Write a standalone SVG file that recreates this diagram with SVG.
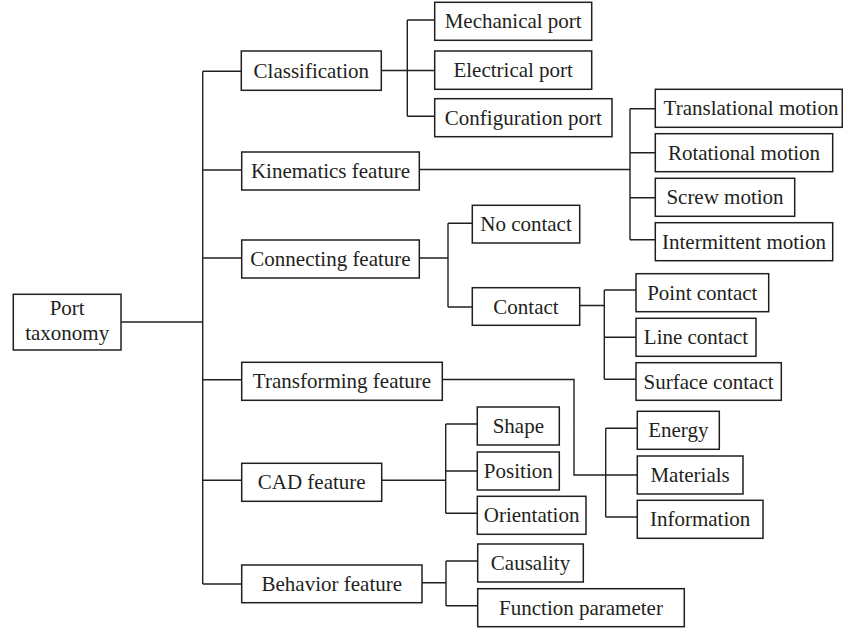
<svg xmlns="http://www.w3.org/2000/svg" width="843" height="632" viewBox="0 0 843 632">
<style>
rect{fill:#fff;stroke:#231f20;stroke-width:1.5}
text{font-family:"Liberation Serif","Times New Roman",serif;font-size:21px;fill:#231f20;text-anchor:middle}
#connectors path{fill:none;stroke:#231f20;stroke-width:1.4}
</style>
<rect x="0" y="0" width="843" height="632" style="stroke:none"/>
<g id="connectors">
<path d="M121,322H202.7M202.7,71.3V584"/>
<path d="M202.7,71.3H241.5M202.7,170H241.5M202.7,258H241.5M202.7,379.7H241.5M202.7,480.3H241.5M202.7,584H241.5"/>
<path d="M381.3,70.5H407.3M407.3,20V116.3M407.3,20H434.7M407.3,70.5H434.7M407.3,116.3H434.7"/>
<path d="M419.3,169.5H630M630,108.7V239.7M630,108.7H655.3M630,152.7H655.3M630,197.7H655.3M630,239.7H655.3"/>
<path d="M419.3,258H448M448,223.3V307M448,223.3H472.3M448,307H472.3"/>
<path d="M579.7,305.5H604.3M604.3,290V379.3M604.3,290H636M604.3,337.3H636M604.3,379.3H636"/>
<path d="M442.3,379.5H574V475H637.3M605.7,428.3V517M605.7,428.3H637.3M605.7,517H637.3"/>
<path d="M381.7,480.3H445.7M445.7,424V513.3M445.7,424H477.3M445.7,471H477.3M445.7,513.3H477.3"/>
<path d="M422,582.7H446M446,561V605.7M446,561H477.7M446,605.7H477.7"/>
</g>
<g id="port-taxonomy"><rect x="13.3" y="294.3" width="107.7" height="55.7"/><text x="67.2" y="315">Port</text><text x="67.2" y="340">taxonomy</text></g>
<g id="classification"><rect x="241.3" y="51" width="140" height="39.3"/><text x="311.3" y="77.5">Classification</text></g>
<g id="kinematics"><rect x="241.7" y="152" width="177.6" height="38"/><text x="330.5" y="178">Kinematics feature</text></g>
<g id="connecting"><rect x="241.7" y="240" width="177.6" height="38"/><text x="330.5" y="266">Connecting feature</text></g>
<g id="transforming"><rect x="241.7" y="362.3" width="200.6" height="38"/><text x="342" y="388.3">Transforming feature</text></g>
<g id="cad"><rect x="241.7" y="463.3" width="140" height="38"/><text x="311.7" y="489.3">CAD feature</text></g>
<g id="behavior"><rect x="241.7" y="565" width="180.3" height="37.7"/><text x="331.8" y="591">Behavior feature</text></g>
<g id="mechanical-port"><rect x="434.7" y="2.3" width="157" height="38"/><text x="513.2" y="28.3">Mechanical port</text></g>
<g id="electrical-port"><rect x="434.7" y="51" width="157" height="38.3"/><text x="513.2" y="77.2">Electrical port</text></g>
<g id="configuration-port"><rect x="434.7" y="98.7" width="177.3" height="38"/><text x="523.3" y="124.7">Configuration port</text></g>
<g id="translational"><rect x="655.3" y="89.3" width="187" height="38"/><text x="751" y="115.3">Translational motion</text></g>
<g id="rotational"><rect x="655.3" y="133.7" width="177.4" height="38"/><text x="744" y="159.7">Rotational motion</text></g>
<g id="screw"><rect x="655.3" y="178.3" width="139.4" height="38"/><text x="725" y="204.3">Screw motion</text></g>
<g id="intermittent"><rect x="655.3" y="222.7" width="177.4" height="38"/><text x="744" y="248.7">Intermittent motion</text></g>
<g id="no-contact"><rect x="472.3" y="205.3" width="107.4" height="37.7"/><text x="526" y="231.2">No contact</text></g>
<g id="contact"><rect x="472.3" y="287.7" width="107.4" height="37.6"/><text x="526" y="313.5">Contact</text></g>
<g id="point-contact"><rect x="636" y="273.7" width="132.7" height="38"/><text x="702.3" y="299.7">Point contact</text></g>
<g id="line-contact"><rect x="636" y="318.3" width="120" height="38"/><text x="696" y="344.3">Line contact</text></g>
<g id="surface-contact"><rect x="636" y="362.7" width="145.3" height="37.6"/><text x="708.6" y="388.5">Surface contact</text></g>
<g id="shape"><rect x="477.3" y="407" width="82" height="38"/><text x="518.3" y="433">Shape</text></g>
<g id="position"><rect x="477.3" y="452" width="82" height="38"/><text x="518.3" y="478">Position</text></g>
<g id="orientation"><rect x="477.3" y="496.3" width="108.7" height="38"/><text x="531.6" y="522.3">Orientation</text></g>
<g id="energy"><rect x="637.3" y="411.3" width="82" height="38"/><text x="678.3" y="437.3">Energy</text></g>
<g id="materials"><rect x="637.3" y="456" width="105.7" height="38"/><text x="690.1" y="482">Materials</text></g>
<g id="information"><rect x="637.3" y="500.3" width="125.7" height="38"/><text x="700.1" y="526.3">Information</text></g>
<g id="causality"><rect x="477.7" y="544" width="105.6" height="38"/><text x="530.5" y="570">Causality</text></g>
<g id="function-parameter"><rect x="477.7" y="588.7" width="206.6" height="38"/><text x="581" y="614.7">Function parameter</text></g>
</svg>
